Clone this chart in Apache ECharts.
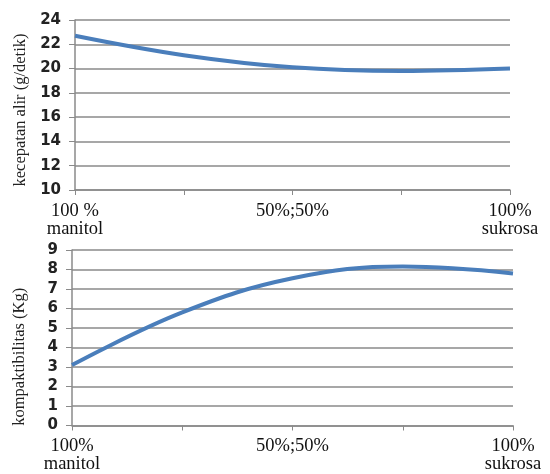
<!DOCTYPE html>
<html>
<head>
<meta charset="utf-8">
<script src="https://cdn.jsdelivr.net/npm/echarts@6/dist/echarts.min.js"></script>
<style>html,body{margin:0;padding:0;background:#fff;}#c{width:550px;height:474px;}</style>
</head>
<body>
<div id="c"></div>
<script>
const topCategories = ['100 %\nmanitol', '', '50%;50%', '', '100%\nsukrosa'];
const bottomCategories = ['100%\nmanitol', '', '50%;50%', '', '100%\nsukrosa'];
const flowRate = [22.7, 21.1, 20.1, 19.8, 20.0];
const compactibility = [3.1, 5.8, 7.55, 8.15, 7.8];
const topAxisName = 'kecepatan alir (g/detik)';
const bottomAxisName = 'kompaktibilitas (Kg)';

const lineColor = '#4a7ebb';
const gridColor = '#8a8a8a';
const yLabel = {fontFamily: 'DejaVu Sans', fontWeight: 'bold', fontSize: 15, color: '#222', margin: 14};
const xLabel = {fontFamily: 'Liberation Serif', fontSize: 18.5, color: '#111', lineHeight: 18, margin: 12, interval: 0};
const nameStyle = {fontFamily: 'Liberation Serif', fontSize: 16.5, color: '#222'};

const chart = echarts.init(document.getElementById('c'), null, {renderer: 'canvas'});
chart.setOption({
  animation: false,
  backgroundColor: '#fff',
  grid: [
    {left: 75, right: 40, top: 20, height: 170},
    {left: 72, right: 37, top: 250, height: 177}
  ],
  xAxis: [
    {gridIndex: 0, type: 'category', data: topCategories, boundaryGap: false,
     axisLine: {lineStyle: {color: gridColor, width: 1.5}},
     axisTick: {show: true, length: 5, alignWithLabel: true, interval: 0, lineStyle: {color: gridColor}},
     axisLabel: xLabel, splitLine: {show: false}},
    {gridIndex: 1, type: 'category', data: bottomCategories, boundaryGap: false,
     axisLine: {lineStyle: {color: gridColor, width: 1.5}},
     axisTick: {show: true, length: 5, alignWithLabel: true, interval: 0, lineStyle: {color: gridColor}},
     axisLabel: xLabel, splitLine: {show: false}}
  ],
  yAxis: [
    {gridIndex: 0, type: 'value', min: 10, max: 24, interval: 2,
     name: topAxisName, nameLocation: 'middle', nameGap: 46, nameRotate: 90,
     nameTextStyle: Object.assign({padding: [0, 10, 0, 0]}, nameStyle),
     axisLine: {show: true, lineStyle: {color: gridColor, width: 1.5}},
     axisTick: {show: true, length: 6, lineStyle: {color: gridColor}},
     axisLabel: yLabel,
     splitLine: {lineStyle: {color: gridColor, width: 1.5}}},
    {gridIndex: 1, type: 'value', min: 0, max: 9, interval: 1,
     name: bottomAxisName, nameLocation: 'middle', nameGap: 44, nameRotate: 90,
     nameTextStyle: Object.assign({padding: [0, 38, 0, 0]}, nameStyle),
     axisLine: {show: true, lineStyle: {color: gridColor, width: 1.5}},
     axisTick: {show: true, length: 6, lineStyle: {color: gridColor}},
     axisLabel: yLabel,
     splitLine: {lineStyle: {color: gridColor, width: 1.5}}}
  ],
  series: [
    {type: 'line', xAxisIndex: 0, yAxisIndex: 0, data: flowRate, smooth: 0.4,
     showSymbol: false, lineStyle: {color: lineColor, width: 4}},
    {type: 'line', xAxisIndex: 1, yAxisIndex: 1, data: compactibility, smooth: 0.4,
     showSymbol: false, lineStyle: {color: lineColor, width: 4}}
  ]
});
</script>
</body>
</html>
